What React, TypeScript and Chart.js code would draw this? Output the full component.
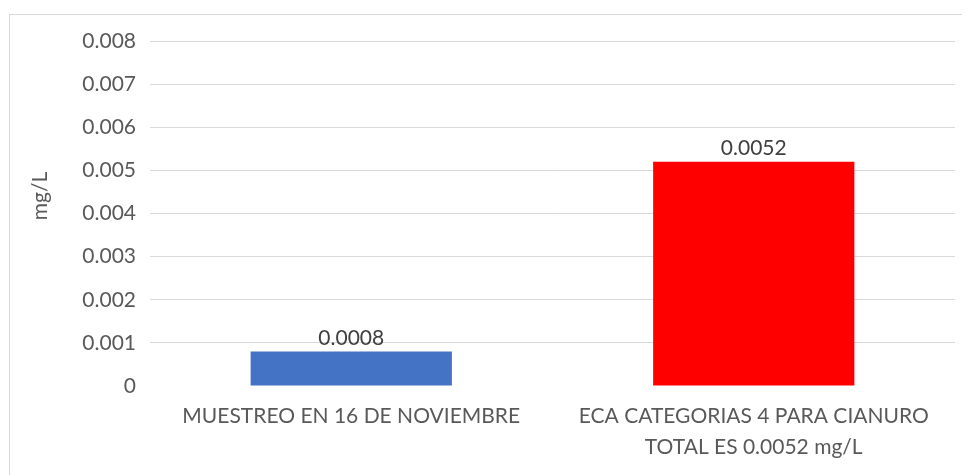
import React, { useEffect, useRef } from "react";
import { Chart, registerables } from "chart.js";

Chart.register(...registerables);

const categories: (string | string[])[] = [
  ["MUESTREO EN 16 DE NOVIEMBRE"],
  ["ECA CATEGORIAS 4 PARA CIANURO", "TOTAL ES 0.0052 mg/L"],
];
const values: number[] = [0.0008, 0.0052];
const valueLabels: string[] = ["0.0008", "0.0052"];
const barColors: string[] = ["#4472C4", "#FF0000"];
const yTitle = "mg/L";
const yMin = 0;
const yMax = 0.008;
const yStep = 0.001;

const FONT = "Lato, 'Open Sans', sans-serif";

export default function App() {
  const ref = useRef<HTMLCanvasElement | null>(null);

  useEffect(() => {
    if (!ref.current) return;
    const frame = {
      id: "frame",
      beforeDraw(chart: any) {
        const { ctx, width, height } = chart;
        ctx.save();
        ctx.fillStyle = "#ffffff";
        ctx.fillRect(0, 0, width, height);
        ctx.strokeStyle = "#d9d9d9";
        ctx.lineWidth = 1;
        ctx.strokeRect(1.5, 6.5, width + 10, height + 10);
        ctx.restore();
      },
    };
    const labelsPlugin = {
      id: "valueLabels",
      afterDatasetsDraw(chart: any) {
        const { ctx } = chart;
        const meta = chart.getDatasetMeta(0);
        ctx.save();
        ctx.font = `21px ${FONT}`;
        ctx.fillStyle = "#404040";
        ctx.textAlign = "center";
        ctx.textBaseline = "bottom";
        meta.data.forEach((el: any, i: number) => {
          ctx.fillText(valueLabels[i], el.x, el.y - 3);
        });
        // y axis title
        ctx.translate(32, 188);
        ctx.rotate(-Math.PI / 2);
        ctx.fillStyle = "#595959";
        ctx.textBaseline = "middle";
        ctx.fillText(yTitle, 0, 0);
        ctx.restore();
      },
    };
    const chart = new Chart(ref.current, {
      type: "bar",
      data: {
        labels: categories,
        datasets: [
          {
            data: values,
            backgroundColor: barColors,
            borderWidth: 0,
            barPercentage: 0.5,
            categoryPercentage: 1,
          },
        ],
      },
      options: {
        animation: false,
        responsive: false,
        maintainAspectRatio: false,
        layout: { padding: { top: 33, right: 15, left: 0, bottom: 0 } },
        plugins: {
          legend: { display: false },
          tooltip: { enabled: false },
        },
        scales: {
          x: {
            grid: { display: false, drawTicks: false },
            border: { display: false },
            ticks: {
              color: "#595959",
              font: { family: FONT, size: 21, lineHeight: 1.5 },
              padding: 14,
              maxRotation: 0,
              autoSkip: false,
            },
            afterFit(scale: any) {
              scale.height = 89;
            },
          },
          y: {
            min: yMin,
            max: yMax,
            border: { display: false },
            grid: {
              drawTicks: false,
              color: (c: any) => (c.tick && c.tick.value === 0 ? "rgba(0,0,0,0)" : "#d9d9d9"),
              lineWidth: 1,
            },
            ticks: {
              stepSize: yStep,
              color: "#595959",
              font: { family: FONT, size: 21 },
              padding: 14,
              callback: (v: any) => (Number(v) === 0 ? "0" : Number(v).toFixed(3)),
            },
            afterFit(scale: any) {
              scale.width = 142;
            },
          },
        },
      },
      plugins: [frame, labelsPlugin],
    });
    return () => chart.destroy();
  }, []);

  return (
    <div style={{ width: 962, height: 467 }}>
      <canvas ref={ref} width={962} height={467} style={{ display: "block" }} />
    </div>
  );
}
